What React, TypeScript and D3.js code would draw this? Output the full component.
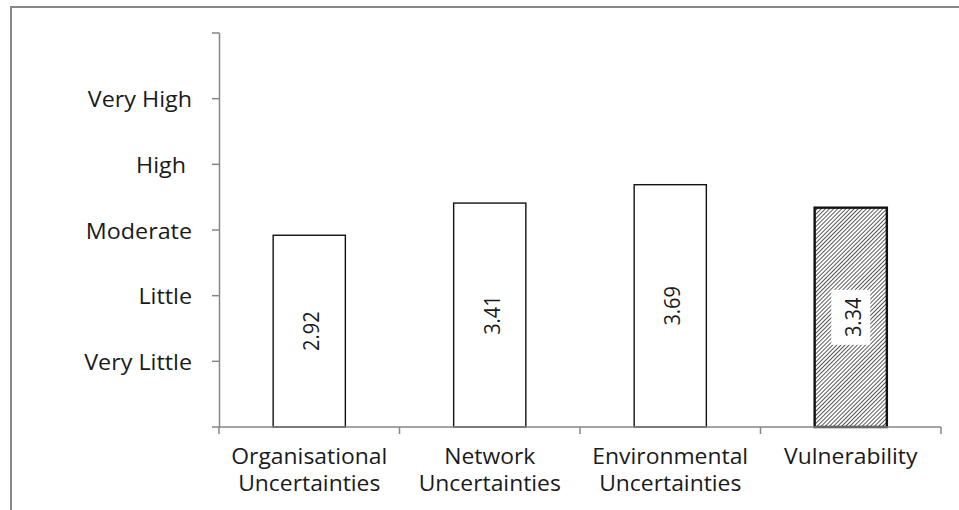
import React from "react";
import * as d3 from "d3";

// Mean scores on a 0–6 rating scale
const categories = [
  ["Organisational", "Uncertainties"],
  ["Network", "Uncertainties"],
  ["Environmental", "Uncertainties"],
  ["Vulnerability"],
];
const values = [2.92, 3.41, 3.69, 3.34];
const hatched = [false, false, false, true];
const yTickValues = [0, 1, 2, 3, 4, 5, 6];
const yTickLabels = ["", "Very Little", "Little", "Moderate", "High ", "Very High", ""];

const W = 959;
const H = 510;
const FONT = "'Open Sans', 'Noto Sans', sans-serif";
const STRETCH = 1.09; // horizontal widening of the text glyphs

export default function App() {
  const keys = categories.map((c) => c.join(" "));
  const x = d3.scaleBand<string>().domain(keys).range([219, 941]).paddingInner(0.6).paddingOuter(0.3);
  const y = d3.scaleLinear().domain([0, 6]).range([427, 33]);
  const step = x.step();
  const x0 = 219;
  const x1 = 941;
  const boundaries = d3.range(keys.length + 1).map((i) => x0 + i * step);

  return (
    <svg
      width={W}
      height={H}
      style={{ position: "absolute", left: 0, top: 0, background: "#fff" }}
      fontFamily={FONT}
    >
      <defs>
        <pattern id="hatch" width={2.9} height={2.9} patternUnits="userSpaceOnUse" patternTransform="rotate(45)">
          <rect width={2.9} height={2.9} fill="#fff" />
          <line x1={0} y1={0} x2={0} y2={2.9} stroke="#222" strokeWidth={1.5} />
        </pattern>
      </defs>

      {/* outer frame */}
      <rect x={11} y={7} width={W + 20} height={H + 20} fill="none" stroke="#888" strokeWidth={2} />

      {/* bars */}
      {keys.map((k, i) => {
        const bx = x(k)!;
        const by = y(values[i]);
        const bw = x.bandwidth();
        const bh = y(0) - by;
        const cx = bx + bw / 2;
        const cy = by + bh / 2;
        const label = values[i].toFixed(2);
        return (
          <g key={k}>
            <rect
              x={bx}
              y={by}
              width={bw}
              height={bh}
              fill={hatched[i] ? "url(#hatch)" : "#fff"}
              stroke="#111"
              strokeWidth={hatched[i] ? 2.4 : 1.4}
            />
            {hatched[i] && <rect x={cx - 19.5} y={cy - 27.5} width={39} height={55} fill="#fff" />}
            <text
              transform={`translate(${cx + 1},${cy}) scale(1.12,1) rotate(-90)`}
              textAnchor="middle"
              dominantBaseline="central"
              fontSize={20}
              fill="#1a1a1a"
            >
              {label}
            </text>
          </g>
        );
      })}

      {/* y axis */}
      <line x1={219.5} x2={219.5} y1={y(6)} y2={y(0)} stroke="#868686" strokeWidth={1.5} />
      {yTickValues.map((v, i) => (
        <g key={v}>
          <line x1={212} x2={219.5} y1={y(v)} y2={y(v)} stroke="#868686" strokeWidth={1.5} />
          {yTickLabels[i] && (
            <text
              transform={`translate(192,${y(v)}) scale(${STRETCH + 0.02},1)`}
              textAnchor="end"
              dominantBaseline="central"
              fontSize={21}
              fill="#1a1a1a"
              style={{ whiteSpace: "pre" }}
            >
              {yTickLabels[i]}
            </text>
          )}
        </g>
      ))}

      {/* x axis */}
      <line x1={x0} x2={x1} y1={y(0)} y2={y(0)} stroke="#868686" strokeWidth={1.5} />
      {boundaries.map((bx, i) => (
        <line key={i} x1={bx} x2={bx} y1={y(0)} y2={y(0) + 7} stroke="#868686" strokeWidth={1.5} />
      ))}
      {categories.map((lines, i) => {
        const cx = x(keys[i])! + x.bandwidth() / 2;
        return (
          <text
            key={keys[i]}
            transform={`translate(${cx},0) scale(${STRETCH},1)`}
            textAnchor="middle"
            fontSize={21}
            fill="#1a1a1a"
          >
            {lines.map((ln, j) => (
              <tspan key={j} x={0} y={464 + j * 27}>
                {ln}
              </tspan>
            ))}
          </text>
        );
      })}
    </svg>
  );
}
